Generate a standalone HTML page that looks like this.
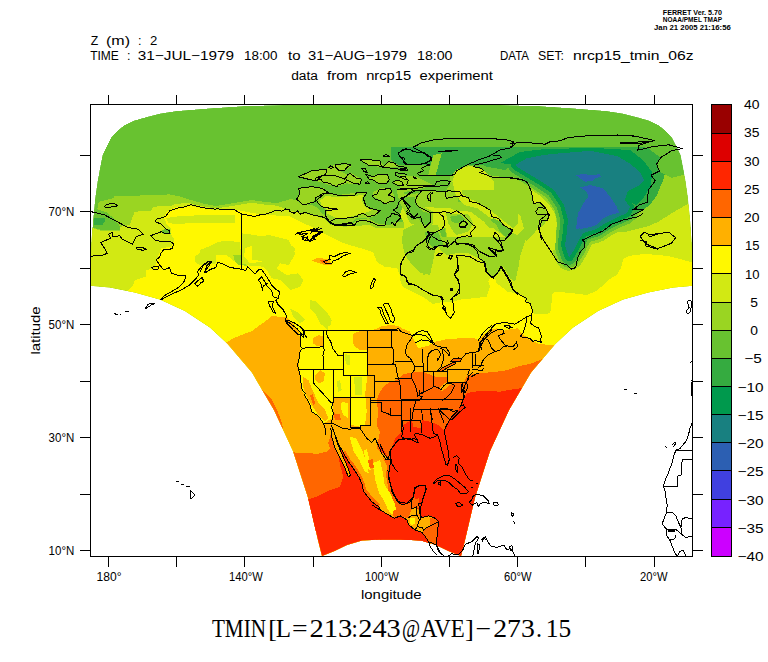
<!DOCTYPE html><html><head><meta charset="utf-8"><title>TMIN</title>
<style>html,body{margin:0;padding:0;background:#fff}body{width:768px;height:662px;overflow:hidden}svg{display:block}text{font-family:"Liberation Sans",sans-serif;fill:#000}.ser{font-family:"Liberation Serif",serif}</style></head><body>
<svg width="768" height="662" viewBox="0 0 768 662">
<rect width="768" height="662" fill="#fff"/>
<defs><clipPath id="dom"><polygon points="304.0,104.5 244.0,106.0 210.0,108.3 176.0,111.0 160.0,113.5 144.5,117.5 134.0,120.5 124.5,125.0 117.0,131.0 111.0,137.5 106.0,147.5 102.5,155.0 101.0,162.5 97.7,180.0 95.2,197.5 93.0,220.0 91.3,245.0 90.5,265.0 90.5,285.8 110.0,287.5 135.0,292.5 160.0,299.5 185.0,311.0 210.0,327.5 227.5,343.8 252.0,372.5 274.0,410.0 293.0,451.0 308.0,497.5 318.0,540.0 322.0,556.0 334.5,551.0 347.0,545.0 362.0,540.5 382.0,539.6 391.5,539.5 401.0,539.6 421.0,540.5 436.0,545.0 448.5,551.0 461.0,556.0 465.0,540.0 475.0,497.5 490.0,451.0 509.0,410.0 531.0,372.5 555.5,343.8 573.0,327.5 598.0,311.0 623.0,299.5 648.0,292.5 673.0,287.5 692.5,285.8 692.5,265.0 691.7,245.0 690.0,220.0 687.8,197.5 685.3,180.0 682.0,162.5 680.5,155.0 677.0,147.5 672.0,137.5 666.0,131.0 658.5,125.0 649.0,120.5 638.5,117.5 623.0,113.5 607.0,111.0 573.0,108.3 539.0,106.0 479.0,104.5" fill="#000" /></clipPath>
<clipPath id="frm"><rect x="90.5" y="104.5" width="602.0" height="452.0"/></clipPath></defs>
<g clip-path="url(#dom)" shape-rendering="crispEdges">
<polygon points="304.0,104.5 244.0,106.0 210.0,108.3 176.0,111.0 160.0,113.5 144.5,117.5 134.0,120.5 124.5,125.0 117.0,131.0 111.0,137.5 106.0,147.5 102.5,155.0 101.0,162.5 97.7,180.0 95.2,197.5 93.0,220.0 91.3,245.0 90.5,265.0 90.5,285.8 110.0,287.5 135.0,292.5 160.0,299.5 185.0,311.0 210.0,327.5 227.5,343.8 252.0,372.5 274.0,410.0 293.0,451.0 308.0,497.5 318.0,540.0 322.0,556.0 334.5,551.0 347.0,545.0 362.0,540.5 382.0,539.6 391.5,539.5 401.0,539.6 421.0,540.5 436.0,545.0 448.5,551.0 461.0,556.0 465.0,540.0 475.0,497.5 490.0,451.0 509.0,410.0 531.0,372.5 555.5,343.8 573.0,327.5 598.0,311.0 623.0,299.5 648.0,292.5 673.0,287.5 692.5,285.8 692.5,265.0 691.7,245.0 690.0,220.0 687.8,197.5 685.3,180.0 682.0,162.5 680.5,155.0 677.0,147.5 672.0,137.5 666.0,131.0 658.5,125.0 649.0,120.5 638.5,117.5 623.0,113.5 607.0,111.0 573.0,108.3 539.0,106.0 479.0,104.5" fill="#68C230" />
<polygon points="88.0,226.5 99.7,229.5 119.7,229.5 119.7,225.8 113.0,217.5 106.0,212.0 97.2,209.2 98.8,201.7 113.0,198.3 114.7,195.8 140.0,195.5 165.0,195.0 168.0,194.0 181.0,196.7 191.0,200.0 205.0,204.0 216.0,206.0 228.0,204.0 240.0,202.0 252.0,200.0 265.0,202.0 277.0,203.0 290.0,199.2 296.7,200.0 300.0,203.3 311.7,205.0 318.3,208.3 321.7,213.3 330.0,218.3 333.3,223.3 353.3,223.3 356.7,220.0 368.3,218.3 376.7,223.3 390.0,225.0 396.7,221.7 406.7,221.7 410.0,215.0 407.0,200.0 403.0,192.0 421.7,190.8 445.0,191.7 450.0,185.0 450.0,175.8 456.7,170.8 466.7,165.0 473.3,166.7 481.7,170.8 486.7,175.0 506.7,177.5 523.3,180.8 600.0,178.0 660.0,172.0 671.5,178.0 686.0,174.0 705.0,174.0 705.0,620.0 80.0,620.0 80.0,232.5" fill="#9AD522" />
<polygon points="88.0,226.5 99.7,230.5 119.7,230.5 120.5,226.7 129.7,225.0 134.7,211.7 151.3,210.8 153.0,206.7 171.0,205.8 174.7,204.2 188.0,202.7 194.7,204.7 204.7,206.7 216.0,208.4 228.0,206.7 240.0,204.7 252.0,202.7 265.0,204.7 277.0,205.7 290.0,210.8 300.0,212.5 311.7,215.0 323.3,218.3 330.0,225.0 345.0,226.7 356.7,225.8 370.0,225.0 376.7,228.3 390.0,228.3 403.3,227.5 406.7,228.3 400.0,215.0 402.0,208.0 412.0,207.0 418.3,206.7 450.0,208.3 463.3,213.3 475.0,225.0 493.3,228.3 500.0,233.0 507.0,238.0 513.0,240.0 520.0,239.0 527.0,240.8 533.9,234.0 538.0,227.0 545.0,228.0 580.0,245.0 605.0,231.7 613.3,230.0 623.3,232.5 636.7,229.2 646.7,226.7 658.0,222.0 672.0,213.0 687.8,204.0 705.0,204.0 705.0,620.0 80.0,620.0 80.0,232.5" fill="#D2E913" />
<polygon points="124.0,297.0 128.0,291.0 132.5,286.0 135.0,280.0 145.5,276.7 146.3,270.0 154.7,268.3 158.0,256.7 161.3,248.3 171.3,246.7 174.7,240.0 170.5,233.3 171.3,229.0 166.3,223.3 163.8,216.7 167.0,211.7 174.7,207.5 191.3,206.0 204.7,208.5 216.0,210.2 228.0,209.0 240.0,210.5 252.0,213.0 267.0,215.0 289.5,216.3 300.0,221.7 315.0,228.3 326.7,235.0 343.0,243.0 360.0,248.0 373.0,252.0 377.0,262.0 385.0,267.0 397.0,268.0 400.0,275.0 400.0,280.0 403.0,287.0 413.0,292.0 423.0,297.0 433.0,304.0 440.0,302.5 453.3,301.7 461.7,299.2 473.3,298.3 486.7,296.7 488.3,291.7 490.0,286.7 488.3,281.7 490.0,277.5 495.0,279.2 496.7,283.3 503.3,288.3 506.7,291.7 510.0,291.7 520.0,295.0 526.7,301.7 531.7,306.7 532.5,313.3 540.0,314.5 550.0,313.3 551.3,306.7 552.0,295.0 555.0,291.5 573.3,293.3 586.7,295.0 596.7,290.8 603.3,285.0 608.3,280.0 616.7,275.0 620.8,268.3 623.3,259.2 628.3,256.0 644.0,254.0 660.0,255.0 671.5,256.7 690.5,262.0 696.0,263.0 705.0,263.0 705.0,620.0 80.0,620.0 80.0,303.0" fill="#FFF800" />
<polygon points="220.0,350.0 226.0,342.5 235.0,337.5 252.0,331.0 267.0,320.0 272.0,316.0 287.0,317.5 294.5,325.0 298.0,331.0 367.5,331.0 375.8,329.0 380.0,326.7 390.0,325.0 398.3,325.8 401.7,328.3 410.0,331.7 413.3,338.3 418.3,348.3 428.3,345.8 435.0,341.7 446.7,339.2 460.0,338.3 473.3,337.5 478.3,340.0 483.3,335.0 490.0,330.0 496.7,328.3 503.3,330.8 510.0,329.2 518.3,328.3 521.7,333.3 530.0,340.0 540.0,344.2 553.3,345.0 560.0,348.0 705.0,348.0 705.0,620.0 80.0,620.0 80.0,356.0" fill="#FFB000" />
<polygon points="299.2,330.0 300.0,345.0 299.2,358.3 298.7,369.2 300.8,380.0 302.5,391.7 305.8,396.7 310.0,405.0 311.7,411.7 318.3,415.8 323.3,423.3 332.5,418.3 332.5,398.3 350.0,397.5 350.8,425.0 360.0,426.7 365.0,425.0 366.7,411.7 365.8,398.3 365.0,395.0 367.5,375.0 367.5,330.0" fill="#FFF800" />
<polygon points="352.5,335.0 356.7,331.7 367.5,330.8 367.5,350.0 360.0,350.0 355.0,346.7 352.5,341.7" fill="#FFB000" />
<polygon points="313.3,338.3 318.3,335.0 323.3,336.7 323.3,346.7 316.7,345.8 312.5,343.3" fill="#FFB000" />
<polygon points="315.0,375.0 320.0,370.0 325.0,373.3 323.3,381.7 318.3,383.3 315.0,380.0" fill="#FFB000" />
<polygon points="302.5,376.7 308.3,380.0 313.3,391.7 318.3,403.3 325.0,410.0 328.3,418.3 325.0,421.7 318.3,415.0 311.7,405.0 305.8,395.0 302.5,385.0" fill="#FFB000" />
<polygon points="310.0,395.0 312.5,394.2 315.3,403.3 313.7,405.3 311.3,400.0" fill="#FF6600" />
<polygon points="333.3,413.3 340.0,414.2 340.8,420.0 335.0,420.0" fill="#FF6600" />
<polygon points="341.7,401.7 348.3,403.3 348.3,418.3 343.3,415.0 340.8,408.3" fill="#FFF800" />
<polygon points="345.0,354.2 350.0,355.0 350.0,365.0 345.8,364.2" fill="#D2E913" />
<polygon points="354.2,376.7 362.5,376.7 361.7,395.0 355.0,395.0" fill="#D2E913" />
<polygon points="336.7,381.7 340.0,380.0 341.7,390.0 338.3,391.7" fill="#D2E913" />
<polygon points="376.0,520.0 378.0,470.0 383.3,458.3 376.7,448.3 380.0,431.7 376.7,425.0 378.3,411.7 376.7,401.7 378.3,395.0 383.3,386.7 390.0,381.7 396.7,380.0 403.3,374.2 413.3,372.5 423.3,372.0 435.0,376.7 446.7,377.5 448.3,381.7 458.3,382.5 463.3,383.3 466.7,376.7 473.3,374.2 483.3,373.0 496.7,371.7 508.0,370.0 519.0,366.0 531.5,363.5 545.0,358.0 560.0,358.0 560.0,620.0 376.0,620.0" fill="#FF6600" />
<polygon points="380.0,560.0 380.0,443.3 388.3,458.3 390.0,460.0 391.7,448.3 395.0,438.3 401.7,431.7 403.3,425.0 411.7,420.0 413.3,426.7 420.8,428.3 421.7,420.0 430.0,421.7 438.3,425.0 444.2,430.8 445.8,425.0 451.7,416.7 458.3,410.0 463.3,400.0 466.7,393.3 473.3,391.7 486.7,390.8 500.0,391.7 508.0,390.0 519.0,388.5 535.0,384.0 560.0,384.0 560.0,620.0 380.0,620.0" fill="#FF2600" />
<polygon points="285.0,448.3 291.7,450.8 296.7,453.3 306.7,452.5 316.7,454.2 326.7,451.7 330.0,448.3 328.3,443.3 331.7,430.0 336.7,428.3 340.0,436.7 345.0,448.3 353.3,463.3 360.0,475.0 363.3,483.3 361.7,490.8 365.0,496.7 371.7,503.3 380.0,510.0 390.0,515.0 398.3,517.5 406.7,521.7 416.7,531.7 285.0,531.7" fill="#FF6600" />
<polygon points="300.0,501.7 306.7,500.0 316.7,496.7 330.0,490.0 340.0,486.7 343.3,476.7 340.0,465.0 336.7,445.0 338.3,441.7 343.3,453.3 348.3,470.0 353.3,470.0 360.0,481.7 360.8,490.8 364.2,497.5 371.7,505.0 380.0,511.7 390.0,516.7 398.3,519.2 406.7,523.3 416.7,531.7 300.0,531.7" fill="#FF2600" />
<polygon points="298.3,176.7 311.7,170.8 328.3,168.3 333.3,165.0 350.0,164.2 350.8,166.7 345.0,170.0 340.0,170.8 348.3,175.0 351.7,173.3 360.0,178.3 361.7,183.3 353.3,184.2 346.7,183.3 336.7,186.7 330.0,185.0 321.7,182.5 315.0,180.8 308.3,179.2" fill="#9AD522" />
<polygon points="298.3,188.3 311.7,186.7 323.3,188.3 328.3,192.5 321.7,195.0 315.0,199.2 311.7,203.3 303.3,205.0 296.7,200.0 300.0,193.3" fill="#9AD522" />
<polygon points="316.7,200.0 325.0,193.3 338.3,195.0 345.0,194.2 356.7,192.5 366.7,192.5 363.3,198.3 366.7,205.0 373.3,210.0 380.0,210.8 376.7,215.0 368.3,218.3 356.7,217.5 353.3,221.7 350.0,225.0 336.7,225.0 330.0,222.5 325.0,215.0 325.8,210.8 320.0,205.0" fill="#9AD522" />
<polygon points="320.0,200.8 325.8,195.8 338.3,197.5 355.0,195.8 363.3,195.0 361.7,200.0 365.0,206.7 371.7,210.8 363.3,213.3 356.7,215.0 345.0,218.3 335.0,217.5 326.7,213.3 327.5,210.0 321.7,205.0" fill="#D2E913" />
<polygon points="373.3,191.7 380.0,188.3 390.0,188.3 393.3,193.3 395.0,200.0 386.7,204.2 380.0,200.0 373.3,196.7" fill="#9AD522" />
<polygon points="396.7,190.0 413.3,188.3 415.0,191.7 406.7,196.7 401.7,200.0 398.3,198.3" fill="#9AD522" />
<polygon points="375.0,175.0 388.3,174.2 389.2,181.7 383.3,183.3 376.7,182.5 368.3,178.3" fill="#9AD522" />
<polygon points="393.3,181.7 400.0,180.0 403.3,184.2 396.7,185.0" fill="#9AD522" />
<polygon points="360.0,160.0 380.0,160.0 383.3,165.8 390.0,161.7 396.7,164.2 396.7,166.7 383.3,167.5 368.3,165.0" fill="#9AD522" />
<polygon points="390.8,146.7 540.0,146.7 540.0,165.0 406.7,165.0 398.3,165.0 390.8,160.0" fill="#35AB40" />
<polygon points="400.0,147.0 433.3,147.0 431.7,156.7 423.3,164.2 405.0,163.3 400.0,156.7" fill="#35AB40" />
<polygon points="441.7,147.0 550.0,147.0 550.0,153.3 513.3,147.5 500.0,151.7 486.7,155.0 475.0,160.0 466.7,165.0 456.7,170.8 450.0,175.8 435.0,175.0 436.7,168.3 441.7,153.3" fill="#35AB40" />
<polygon points="433.3,155.0 441.7,153.3 435.8,175.0 428.3,175.0" fill="#9AD522" />
<polygon points="400.0,175.0 416.7,176.7 433.3,185.0 416.7,190.0 400.0,190.0" fill="#9AD522" />
<polygon points="403.3,191.7 421.7,190.8 416.7,196.7 415.0,201.7 418.3,206.7 425.0,210.0 430.8,213.3 430.8,221.7 425.0,227.5 421.7,221.7 420.8,216.7 415.0,218.3 406.7,211.7 410.0,206.7" fill="#68C230" />
<polygon points="458.3,197.5 470.0,198.3 490.0,208.3 493.3,215.0 490.0,215.0 478.3,206.7 466.7,203.3 458.3,201.7" fill="#68C230" />
<polygon points="455.7,170.0 470.7,165.7 484.0,170.0 494.0,181.7 494.0,195.0 510.7,205.0 520.7,216.7 524.0,228.3 517.3,235.0 504.0,228.3 490.7,218.3 477.3,208.3 464.0,205.0 455.7,195.0 452.3,181.7" fill="#D2E913" />
<polygon points="404.0,210.0 420.7,208.3 437.3,211.7 450.7,210.0 470.7,211.7 484.0,221.7 494.0,235.0 504.0,241.7 517.3,243.3 524.0,251.7 524.0,271.7 404.0,271.7" fill="#D2E913" />
<polygon points="461.7,190.0 518.0,190.0 518.0,223.3 513.3,228.3 506.7,223.3 498.3,216.7 490.0,210.0 476.7,201.7 468.3,198.3 461.7,193.3" fill="#9AD522" />
<polygon points="400.0,195.0 418.3,193.3 423.3,206.7 433.3,211.7 433.3,223.3 428.3,230.0 420.0,226.7 410.0,223.3 405.0,211.7 400.0,203.3" fill="#9AD522" />
<polygon points="401.7,196.7 415.0,196.7 416.7,205.0 423.3,211.7 430.0,213.3 430.8,221.7 426.7,226.7 421.7,223.3 418.3,218.3 411.7,220.0 408.3,213.3 410.0,210.0 405.0,205.0" fill="#68C230" />
<polygon points="430.0,232.5 445.8,228.0 448.3,247.5 440.8,248.7 431.7,240.8" fill="#9AD522" />
<polygon points="431.7,233.3 438.3,230.0 445.0,228.3 446.7,240.0 448.3,246.7 443.3,246.7 438.3,241.7 433.3,238.3" fill="#68C230" />
<polygon points="445.8,213.3 468.3,214.2 473.3,223.3 468.3,231.7 456.7,235.0 453.3,231.7 448.3,223.3" fill="#9AD522" />
<polygon points="450.0,216.7 460.0,215.0 465.0,220.0 456.7,223.3 451.7,221.7" fill="#68C230" />
<polygon points="493.3,218.3 500.0,221.7 511.7,230.0 506.7,238.3 500.0,231.7 496.7,225.0 490.0,220.0" fill="#68C230" />
<polygon points="415.0,253.3 426.7,248.3 431.7,261.7 430.0,273.3 423.3,275.0 420.0,268.3 415.0,261.7" fill="#9AD522" />
<polygon points="440.0,236.7 440.0,250.0 446.7,255.0 456.7,253.3 468.3,253.3 478.3,258.3 485.0,265.0 488.3,273.3 493.3,278.3 500.0,271.7 503.3,266.7 510.0,278.3 515.0,281.7 518.3,268.3 520.0,256.7 523.3,246.7 526.7,236.7" fill="#9AD522" />
<polygon points="403.0,230.0 413.0,225.0 438.0,225.0 443.0,240.0 435.0,250.0 433.0,262.0 430.0,275.0 420.0,273.0 412.0,265.0 405.0,255.0 402.0,242.0" fill="#9AD522" />
<polygon points="425.0,231.7 438.0,231.7 443.3,245.0 433.3,248.3 426.7,241.7" fill="#68C230" />
<polygon points="311.7,260.8 318.3,257.5 330.0,260.0 331.7,265.0 325.0,265.0 316.7,262.5" fill="#FFB000" />
<polygon points="320.0,260.0 326.7,260.3 327.5,263.0 321.7,262.7" fill="#FF6600" />
<polygon points="310.0,300.0 315.0,301.7 326.7,311.7 331.7,320.0 330.0,326.7 323.3,323.3 316.7,315.0 310.0,308.3" fill="#D2E913" />
<polygon points="509.6,178.1 531.8,191.4 544.3,199.7 551.5,210.6 554.3,221.1 553.1,233.3 551.6,243.0 552.0,248.7 554.0,255.7 554.5,257.0 556.7,262.5 561.1,268.3 568.0,270.9 575.2,269.6 580.6,264.7 586.4,255.5 587.3,253.9 590.2,247.4 592.0,244.5 600.6,241.9 604.2,240.2 612.8,234.5 622.3,229.8 631.9,225.7 638.7,219.6 642.0,213.3 643.5,206.1 641.1,199.5 644.0,198.1 646.8,196.2 653.1,190.8 656.7,186.0 657.8,180.1 657.0,177.0 508.2,177.0 509.6,178.1" fill="#9AD522" />
<polygon points="509.1,173.9 511.1,175.5 533.4,188.9 546.4,197.6 554.3,209.4 557.4,220.9 556.1,233.7 554.6,243.4 554.9,247.9 556.9,254.9 557.3,255.9 559.5,261.4 562.9,265.9 568.2,268.0 573.8,266.9 578.1,263.1 583.9,253.9 584.6,252.6 587.6,246.0 590.1,241.9 599.7,239.1 602.5,237.7 611.3,231.9 621.1,227.1 630.8,223.0 636.0,218.2 639.3,211.9 640.5,206.3 638.5,200.9 636.7,198.4 642.7,195.4 644.8,194.0 651.1,188.6 653.9,184.8 654.8,180.2 653.6,175.7 649.3,167.6 647.1,164.8 641.9,160.0 506.0,160.0 504.6,163.6 505.1,168.4 507.6,172.4 509.1,173.9" fill="#68C230" />
<polygon points="483.0,166.0 495.0,158.0 512.0,150.0 530.0,146.7 640.0,146.7 648.0,148.0 657.0,155.0 667.0,162.0 664.0,178.0 657.0,195.0 650.0,205.0 640.0,212.0 630.0,215.0 600.0,200.0 520.0,160.0 505.0,170.0" fill="#35AB40" />
<polygon points="511.2,171.8 512.6,172.9 535.0,186.3 548.6,195.4 557.1,208.1 560.4,220.6 559.1,234.1 557.6,243.9 557.8,247.1 559.8,254.1 560.0,254.8 562.2,260.3 564.7,263.5 568.5,265.0 572.5,264.2 575.5,261.5 581.3,252.3 581.8,251.4 584.9,244.5 588.2,239.4 598.8,236.2 600.9,235.2 609.8,229.3 619.8,224.3 629.6,220.2 633.3,216.8 636.6,210.5 637.5,206.5 636.1,202.6 633.3,198.7 634.1,196.3 641.4,192.7 642.9,191.7 649.2,186.3 651.2,183.6 651.8,180.3 650.9,177.1 646.6,169.0 645.1,167.0 635.9,158.5 634.6,157.5 620.8,149.5 618.5,148.6 608.6,146.7 550.8,146.7 542.5,147.5 541.8,147.6 525.2,150.9 523.0,151.8 511.3,158.5 508.8,160.8 507.6,164.0 507.9,167.4 509.7,170.3 511.2,171.8" fill="#35AB40" />
<polygon points="513.7,169.3 514.4,169.9 536.9,183.4 551.1,192.9 560.3,206.7 563.9,220.3 562.5,234.5 561.0,244.4 561.2,246.1 563.2,253.1 563.3,253.5 565.5,259.0 566.8,260.7 568.8,261.5 571.0,261.1 572.6,259.6 578.4,250.4 578.6,249.9 581.8,242.9 585.9,236.4 597.8,232.8 598.9,232.3 608.0,226.3 618.4,221.1 628.2,217.0 630.2,215.2 633.5,208.9 634.0,206.7 633.3,204.7 629.4,199.3 631.3,193.8 639.8,189.6 640.6,189.0 646.9,183.6 648.0,182.2 648.3,180.4 647.8,178.7 643.5,170.6 642.7,169.6 633.5,161.1 632.8,160.5 619.0,152.5 617.8,152.1 604.1,149.4 604.0,149.4 598.4,148.3 571.8,148.3 559.7,149.3 559.6,149.3 542.9,151.0 542.5,151.1 525.9,154.4 524.7,154.8 513.0,161.5 511.7,162.8 511.0,164.5 511.2,166.3 512.2,167.8 513.7,169.3" fill="#00994D" />
<polygon points="500.0,163.0 520.0,152.0 545.0,149.0 600.0,148.3 630.0,150.0 643.0,160.0 652.0,172.0 651.0,186.0 644.0,197.0 636.0,205.0 625.0,200.0 610.0,152.0 540.0,153.0 515.0,165.0" fill="#00994D" />
<polygon points="515.0,165.0 526.7,158.3 543.3,155.0 560.0,153.3 590.0,150.8 603.3,153.3 617.0,156.0 630.8,164.0 640.0,172.5 644.3,180.6 638.0,186.0 628.0,191.0 625.0,200.0 630.0,207.0 626.7,213.3 616.7,217.5 606.0,222.8 596.7,229.0 583.3,233.0 578.3,241.0 575.0,248.3 569.2,257.5 567.0,252.0 565.0,245.0 566.5,235.0 568.0,220.0 564.0,205.0 554.0,190.0 539.0,180.0 526.5,172.5 516.5,166.5 515.0,165.0" fill="#188080" />
<polygon points="575.8,175.0 583.3,174.2 593.3,175.0 600.0,174.2 600.8,176.7 595.0,178.3 593.3,180.8 585.0,181.7 580.0,178.3" fill="#2C5FB2" />
<polygon points="580.0,187.5 590.0,185.0 603.3,188.3 610.0,196.7 616.7,206.7 619.2,212.5 610.0,215.0 600.0,220.0 596.7,225.0 583.3,227.5 575.8,229.2 576.7,223.3 578.3,213.3 583.3,203.3 588.3,196.7 586.7,191.7" fill="#2C5FB2" />
<polygon points="578.3,211.7 576.7,223.3 580.0,229.2 588.3,227.5 596.7,225.0 601.7,220.0 608.3,211.7" fill="#2C5FB2" />
<polygon points="528.3,186.7 531.7,190.0 540.0,195.8 549.2,205.0 555.0,213.3 556.7,223.3 555.8,240.0 554.7,250.0 545.0,250.0 540.8,240.0 539.2,230.0 547.5,220.0 549.2,215.0 545.8,208.3 540.0,202.5 533.3,203.3 531.7,196.7 530.8,190.0" fill="#D2E913" />
<polygon points="655.2,137.2 682.4,148.0 685.1,172.5 671.5,177.9 660.7,172.5 656.6,164.3 660.7,157.6 671.5,150.8" fill="#68C230" />
<polygon points="300.0,505.0 306.7,500.0 316.7,496.7 330.0,490.0 340.0,486.7 343.3,478.0 347.0,477.0 350.5,477.0 358.7,476.7 362.0,484.0 363.7,491.7 368.0,497.0 372.0,502.0 378.7,506.7 380.3,510.0 388.7,515.0 394.5,518.3 400.3,515.8 407.0,520.0 408.7,525.0 415.3,530.0 422.0,532.5 425.3,536.7 428.7,541.7 430.3,546.7 433.7,551.7 437.0,556.7 437.0,570.0 300.0,570.0" fill="#FF2600" />
<polygon points="338.0,445.0 343.0,452.0 348.0,461.0 353.0,468.0 358.7,476.7 350.5,477.0 346.0,463.0 341.0,452.0" fill="#FF2600" />
<polygon points="376.7,448.3 388.3,458.3 390.0,465.0 388.3,476.7 389.5,480.0 392.0,491.7 397.0,500.8 402.0,505.0 411.2,501.7 413.7,495.0 414.5,487.5 420.3,485.0 425.3,485.8 426.2,489.2 423.7,496.7 422.0,503.3 419.5,509.2 420.3,515.8 422.0,517.5 428.7,515.8 435.3,518.3 438.7,521.7 437.8,528.3 437.0,536.7 436.2,545.0 438.7,550.0 442.0,556.7 437.0,556.7 433.7,551.7 430.3,546.7 428.7,541.7 425.3,536.7 422.0,532.5 415.3,530.0 408.7,525.0 407.0,520.0 400.3,515.8 394.5,518.3 388.7,515.0 380.3,510.0 378.7,506.7 372.0,502.0 368.0,497.0 363.7,491.7 362.0,484.0 358.7,476.7 353.0,468.0 348.0,461.0 343.0,452.0 338.0,443.0 334.0,432.0 331.0,425.0" fill="#FFB000" />
<polygon points="330.8,427.5 331.7,437.0 335.0,448.0 340.0,458.0 345.0,468.0 348.3,477.0 350.5,475.0 346.0,463.0 341.0,452.0 337.0,442.0 334.0,432.0" fill="#FFB000" />
<polygon points="343.0,452.0 348.0,461.0 353.0,468.0 358.7,476.7 362.0,484.0 363.7,491.7 368.0,497.0 372.0,502.0 378.7,506.7 380.0,504.0 374.0,499.0 370.0,494.0 366.5,490.0 364.5,483.0 361.0,475.0 355.5,466.0 350.0,459.0 345.5,451.0" fill="#FF6600" />
<polygon points="383.3,458.3 390.0,460.0 390.0,465.0 388.3,476.7 389.5,480.0 392.0,491.7 397.0,500.8 402.0,505.0 411.2,501.7 412.0,509.2 407.8,518.3 400.3,515.8 394.5,518.3 392.0,513.3 393.7,504.2 388.7,492.5 387.0,480.0 386.0,476.0 387.0,466.0" fill="#FF6600" />
<polygon points="413.7,495.0 414.5,487.5 420.3,485.0 425.3,485.8 426.2,489.2 423.7,496.7 422.0,503.3 419.5,509.2 415.3,508.3 412.5,502.0" fill="#FF2600" />
<polygon points="415.0,499.2 419.0,498.3 419.5,507.5 415.7,508.0" fill="#FF6600" />
<polygon points="429.5,518.3 435.3,518.3 438.7,521.7 437.8,528.3 437.0,536.7 436.2,545.0 428.7,541.7 425.3,536.7 422.0,532.5 423.7,530.0 427.0,527.5 430.3,525.0" fill="#FF6600" />
<polygon points="349.7,436.7 356.0,438.3 362.0,450.0 367.0,463.3 368.7,473.3 364.7,471.7 359.3,460.0 353.7,451.7" fill="#FFF800" />
<polygon points="372.7,463.3 380.0,460.0 382.7,471.7 384.7,485.0 389.3,491.7 394.7,503.3 396.0,510.0 390.3,510.0 384.7,501.7 379.3,493.3 375.3,480.0" fill="#FFF800" />
<polygon points="363.7,450.0 367.0,449.3 369.3,460.0 370.7,470.0 368.0,469.3 365.3,460.0" fill="#FFF800" />
<polygon points="374.5,470.0 382.0,470.0 383.7,480.0 381.2,488.3 386.2,491.7 392.0,498.3 394.5,508.3 392.0,515.0 387.8,509.2 383.7,500.0 378.7,491.7 375.3,480.0" fill="#FFF800" />
<polygon points="409.5,518.7 414.5,517.5 415.0,524.2 410.7,525.0" fill="#FFF800" />
<polygon points="368.0,460.0 372.7,459.3 374.0,468.3 369.3,467.3" fill="#FF6600" />
<polygon points="166.3,218.3 174.7,216.7 188.0,215.8 204.7,215.0 216.0,214.7 234.7,215.0 234.7,222.5 216.0,223.0 204.7,223.3 188.0,223.3 174.7,224.2 168.0,222.5" fill="#D2E913" />
<polygon points="194.7,256.7 201.3,251.7 209.7,248.3 216.0,246.7 216.0,263.3 208.0,265.0 199.7,265.0 194.7,261.7" fill="#D2E913" />
<polygon points="200.0,250.0 208.3,246.7 218.3,241.7 230.0,240.8 240.0,242.5 241.7,263.3 233.3,260.8 226.7,255.0 216.7,255.0 208.3,256.7 200.0,258.3" fill="#D2E913" />
<polygon points="233.3,255.0 241.7,255.0 248.3,263.3 246.7,265.8 238.3,265.0 234.2,260.0" fill="#9AD522" />
<polygon points="241.7,233.3 255.0,235.0 270.0,238.3 286.7,241.7 295.0,248.3 293.3,258.3 280.0,263.3 276.7,268.3 286.7,275.0 298.3,273.3 303.3,280.0 300.0,286.7 290.0,290.0 280.0,280.0 271.7,278.3 266.7,270.0 263.3,266.7 250.0,265.8 241.7,263.3" fill="#D2E913" />
<polygon points="245.0,248.3 255.0,245.0 265.0,248.3 266.7,255.0 261.7,261.7 250.0,263.3 244.2,256.7" fill="#FFF800" />
<polygon points="310.0,300.0 316.7,301.7 323.3,310.0 328.0,320.0 328.0,330.0 320.0,323.3 315.0,313.3 310.0,305.0" fill="#D2E913" />
<polygon points="290.0,308.3 296.7,311.7 305.0,320.0 300.0,323.3 293.3,316.7" fill="#D2E913" />
<polygon points="93.8,217.9 104.7,217.9 104.7,221.7 102.2,225.0 93.8,225.0" fill="#35AB40" />
<polygon points="161.3,229.7 169.7,229.2 170.8,233.7 163.0,234.2" fill="#68C230" />
<polygon points="256.0,384.0 266.0,393.0 272.0,400.0 277.0,410.0 281.0,420.0 283.0,428.0 276.0,428.0 268.0,410.0 258.0,395.0" fill="#FF6600" />
<polygon points="252.0,238.3 268.7,235.0 288.7,240.0 295.3,253.3 288.7,265.0 272.0,261.7 252.0,260.0" fill="#D2E913" />
<polygon points="438.7,388.3 446.7,381.7 456.7,375.0 461.7,373.3 460.0,378.3 450.0,385.0 441.7,391.7" fill="#FFB000" />
<polygon points="411.2,501.7 413.7,495.0 415.7,499.2 415.7,508.0 419.5,509.2 420.3,515.8 417.0,515.0 416.2,506.7 412.0,509.2" fill="#FF6600" />
<polygon points="416.7,509.2 419.0,509.7 419.3,514.7 417.3,514.3" fill="#FFB000" />
</g>
<g clip-path="url(#frm)" fill="none" stroke="#000" stroke-width="1" shape-rendering="crispEdges">
<polygon points="438.5,371.1 442.2,368.0 447.2,365.5 452.2,363.0 456.0,361.8 455.4,363.6 451.0,366.1 446.0,368.6 441.0,371.8" fill="#FF6600" stroke="#000"/>
<polygon points="451.0,361.1 453.5,358.6 458.5,358.0 461.6,358.6 460.4,361.1 454.8,361.8" fill="#FF6600" stroke="#000"/>
<polyline points="91.3,211.7 104.7,215.0 128.0,227.5 138.0,229.2 143.0,234.2 136.3,236.7 132.2,244.2 122.2,239.2 119.7,235.8 113.0,236.7 112.2,232.5 108.8,234.2 110.5,238.3 100.5,242.5 104.7,248.3 107.2,253.3 103.0,255.0 94.7,255.0 91.3,256.7" />
<polyline points="104.7,206.7 106.3,204.2 114.7,203.7 117.7,205.8 113.0,206.7 106.3,208.0 104.7,206.7" />
<polyline points="136.3,247.5 141.3,247.0 146.3,249.2 143.0,250.3 137.2,249.2 136.3,247.5" />
<polyline points="216.0,209.2 204.7,208.0 194.7,205.8 190.5,204.7 185.5,206.7 178.0,208.0 169.7,210.8 165.5,216.7 156.3,219.2 155.5,221.7 161.3,224.2 166.3,229.2 169.7,230.8 169.7,233.7 165.5,233.7 161.3,231.7 150.5,235.8 154.7,240.0 161.3,241.7 171.3,242.0 173.8,244.2 172.2,248.3 168.0,250.0 163.8,249.7 161.3,252.5 159.7,256.7 156.3,260.0 159.7,265.0 163.8,270.0 169.7,267.5 171.3,273.3 179.7,275.8 185.5,275.8 184.7,280.8 179.7,286.7 171.3,291.7 166.3,294.2 160.5,299.2 161.3,299.7 171.3,294.2 181.3,290.0 189.7,285.0 194.7,280.0 198.8,275.0 197.2,271.7 203.0,265.0 208.0,261.7 211.3,261.7 207.2,265.0 205.5,270.0 204.7,272.5 209.7,270.0 216.0,267.5" />
<polyline points="151.3,267.5 154.7,266.3 158.8,267.0 158.0,269.2 153.8,269.7 151.3,267.5" />
<polyline points="194.7,283.3 202.2,277.5 203.8,280.8 197.2,286.3 194.7,283.3" />
<polyline points="298.3,176.7 311.7,170.8 326.7,169.2 325.8,174.2 315.0,178.3 316.7,180.8 321.7,175.8 333.3,175.0 345.0,179.2 347.5,175.0 350.0,173.3 356.7,178.3 361.7,179.2 360.0,184.2 353.3,183.3 346.7,180.0 345.0,182.5 338.3,185.0 336.7,186.7 331.7,185.0 330.8,183.3 323.3,182.5 320.8,179.2 315.0,180.8 308.3,179.2 298.3,176.7" />
<polyline points="328.3,167.5 330.8,165.8 333.3,167.5 330.8,168.3 328.3,167.5" />
<polyline points="335.0,165.0 345.0,163.3 350.8,165.0 346.7,167.5 345.0,170.0 338.3,170.0 335.8,167.5 335.0,165.0" />
<polyline points="298.3,188.3 311.7,186.7 321.7,188.3 328.3,192.5 321.7,194.2 315.0,198.3 315.0,201.7 303.3,205.0 296.7,199.2 300.0,193.3 298.3,188.3" />
<polyline points="316.7,200.0 325.0,193.3 335.0,194.2 338.3,195.8 355.0,195.0 356.7,192.5 366.7,192.5 363.3,198.3 365.8,205.8 370.0,208.3 376.7,210.0 380.0,210.8 375.0,215.0 368.3,216.7 363.3,213.3 358.3,215.0 356.7,216.7 345.0,218.3 336.7,218.3 330.0,221.7 335.8,225.0 351.7,222.5 354.2,225.0 350.0,225.0 336.7,225.0 330.0,222.5 325.0,215.0 325.8,210.8 338.3,209.2 330.0,208.3 321.7,206.7 318.3,203.3 316.7,200.0" />
<polyline points="290.0,211.7 294.2,213.3 297.5,210.8 300.0,214.2 305.0,212.5 313.3,215.0 321.7,216.7 325.8,218.3 330.0,223.3 335.8,225.8 351.7,223.3 354.2,225.8 356.7,221.7 363.3,220.0 370.0,221.7 376.7,225.0 385.0,225.0 386.7,218.3 390.0,216.7 391.7,213.3 398.3,215.0 400.8,217.5 396.7,221.7 395.0,225.8 392.0,221.7 390.8,224.2" />
<polyline points="360.0,160.0 368.3,159.7 380.0,160.8 380.8,165.0 383.3,166.7 388.3,161.7 395.0,163.3 396.7,165.8 406.7,167.5 405.0,170.0 393.3,168.3 383.3,167.5 378.3,165.8 368.3,165.0 364.2,162.5 360.0,160.0" />
<polyline points="383.3,156.3 385.8,154.2 389.2,156.3 383.3,156.3" />
<polyline points="361.7,168.3 365.0,168.3 367.5,172.5 364.2,171.7 361.7,168.3" />
<polyline points="365.8,174.2 373.3,176.7 376.7,175.0 387.5,174.7 389.2,180.0 386.7,183.3 378.3,183.3 373.3,180.0 369.2,179.2 365.8,174.2" />
<polyline points="365.0,183.3 367.5,181.7 369.2,183.3 365.0,183.3" />
<polyline points="392.5,182.5 396.7,180.0 401.7,181.7 403.3,185.0 396.7,185.0 392.5,182.5" />
<polyline points="371.7,195.8 376.7,194.2 379.2,190.0 390.0,188.3 391.7,191.7 388.3,195.0 394.2,197.5 395.0,200.8 390.0,201.7 385.0,204.2 380.8,200.8 375.0,199.2 371.7,195.8" />
<polyline points="396.7,190.0 410.0,188.7 415.0,190.8 406.7,195.8 401.7,199.2 399.2,201.7 396.7,208.3 393.3,210.0 398.3,213.3 400.8,216.7" />
<polyline points="403.3,200.8 410.0,211.7 406.7,213.3 413.3,218.3 418.0,213.3" />
<polyline points="406.7,174.2 395.0,172.5 395.0,175.0 398.3,176.7 406.7,180.0" />
<polyline points="406.7,148.7 403.3,149.2 398.3,153.3 400.0,156.7 405.0,158.3 403.3,161.7 406.7,165.0" />
<polyline points="413.3,146.7 418.0,145.0" />
<polyline points="295.0,234.2 303.3,231.7 310.0,230.0 315.0,228.3 311.7,231.7 321.7,231.7 316.7,235.0 313.3,236.7 315.0,239.2 310.0,241.7 306.7,238.3 305.0,240.8 302.5,239.2 304.2,235.8 300.0,233.3 295.0,234.2" />
<polyline points="413.3,147.5 420.0,143.3 433.3,140.0 453.3,138.0 475.0,138.0 493.3,138.7 506.7,140.0 513.3,141.7 514.2,145.0 510.0,148.0 500.0,150.0 490.0,155.8 478.3,160.0 466.7,165.0 456.7,170.8 455.0,174.2 450.0,175.8 435.0,175.0 420.0,175.8 417.5,173.3 423.3,170.8 421.7,168.3 426.7,165.8 430.0,165.0 425.0,163.3 431.7,160.0 430.0,156.7 426.7,155.8 425.0,153.3 413.3,147.5" />
<polyline points="492.5,155.0 500.0,155.8 501.7,157.5 493.3,160.0 485.0,162.5 475.0,165.0 473.3,166.7 481.7,168.3 483.3,170.8 480.0,172.5 486.7,175.0 493.3,177.5 506.7,177.5 523.3,180.0 528.0,183.3" />
<polyline points="438.3,151.7 450.0,150.5 457.5,150.5 450.0,151.2 438.3,151.7" />
<polyline points="400.0,151.7 405.0,149.2 410.0,149.2 413.3,151.7 425.0,153.3 431.7,157.5 430.8,160.0 425.0,163.3 416.7,165.0 406.7,164.2 401.7,158.3 400.0,156.7" />
<polyline points="400.0,168.3 406.7,168.3 407.5,170.0 400.0,170.8" />
<polyline points="400.0,176.7 405.0,176.7 408.3,180.0 406.7,185.0 416.7,185.8 435.0,185.0 436.7,181.7 445.0,180.0 450.0,181.7 448.3,185.0 435.0,186.7 425.0,186.7 416.7,188.3 400.0,188.3" />
<polyline points="413.3,176.7 416.7,178.7 414.2,178.7 413.3,176.7" />
<polyline points="400.0,198.3 405.0,196.7 413.3,190.0 421.7,190.8 416.7,196.7 415.0,201.7 418.3,206.7 425.0,210.0 430.0,212.5 430.8,221.7 425.0,227.5 421.7,221.7 420.8,216.7 415.0,218.3 410.0,213.3 406.7,211.7 410.0,206.7 401.7,198.3" />
<polyline points="430.8,192.5 427.5,195.8 428.3,200.0 430.8,201.7 430.8,198.3 430.0,195.0 433.3,192.5" />
<polyline points="445.0,191.7 448.3,190.8 460.0,191.7 461.7,195.8 455.0,196.7 446.7,198.3 445.0,195.0 445.0,191.7" />
<polyline points="421.7,190.8 433.3,190.8 445.0,191.7" />
<polyline points="461.7,195.8 468.3,197.5 470.0,201.7 478.3,203.3 490.0,210.0 491.7,216.7 498.3,218.3 503.3,225.0 511.7,230.0 510.0,235.0 505.0,240.0" />
<polyline points="430.0,212.5 438.3,212.5 443.3,216.7 445.0,225.0 441.7,229.2 433.3,233.3 426.7,231.7" />
<polyline points="438.3,212.5 445.0,211.7 451.7,213.3 456.7,210.8 463.3,215.0 473.3,225.0 475.8,226.7 470.0,233.3 471.7,236.7 466.7,235.8 458.3,237.5 455.0,240.0 456.7,243.3 461.7,243.3 470.0,244.2" />
<polyline points="459.2,225.0 461.7,221.7 465.8,221.7 467.5,224.2 465.0,227.5 460.8,227.5 459.2,225.0" />
<polyline points="415.0,246.7 413.3,251.7 406.7,253.3 401.7,261.7 400.0,270.0 400.8,275.0 405.8,276.7 408.3,284.2 415.0,285.0 423.3,290.0 431.7,295.0 441.7,296.7 443.3,300.0" />
<polyline points="427.5,238.3 415.0,246.7" />
<polyline points="426.7,231.7 430.0,234.2 425.8,239.2 429.2,250.0 435.0,246.7 443.3,245.0 447.5,247.5 446.7,242.5 438.3,240.0 433.7,237.5 430.0,233.7" />
<polyline points="456.7,255.0 458.3,266.7 454.2,274.2 458.3,280.0 460.0,286.7 456.7,293.3 451.7,298.3 450.8,300.0" />
<polyline points="456.7,255.0 470.0,256.7 478.3,261.7 485.0,263.3 486.7,271.7 491.7,277.5 496.7,274.2 500.8,266.7 506.7,276.7 513.3,290.0 518.0,295.0" />
<polyline points="447.5,247.5 455.0,240.8 456.7,244.2 465.0,243.3 473.3,245.0 480.0,251.7 490.0,256.7 496.7,255.8 493.3,251.7 488.3,247.5 496.7,250.0 503.3,250.0 500.8,241.7 498.3,235.0 495.0,232.5 493.3,236.7 496.7,240.0 505.0,240.0 512.5,230.0" />
<polyline points="436.7,255.8 439.2,253.0 443.3,253.0 440.0,255.8 436.7,255.8" />
<polyline points="448.3,258.3 450.0,255.0 452.5,255.8 450.8,259.2 448.3,258.3" />
<polyline points="450.7,288.7 452.7,290.7" />
<polyline points="452.7,288.7 450.7,290.7" />
<polyline points="451.7,288.3 451.7,291.0" />
<polyline points="450.3,289.7 453.0,289.7" />
<polyline points="459.2,223.3 463.3,220.8 467.5,223.3 465.0,226.7 460.0,226.7 459.2,223.3" />
<polyline points="241.7,212.5 241.7,269.2" />
<polyline points="200.0,271.7 203.3,265.8 208.3,261.7 211.7,261.7 206.7,269.2 204.2,271.7 206.7,272.5 210.0,269.2 215.8,267.5 217.5,262.5 221.7,263.3 230.0,267.5 241.7,269.2 245.8,270.8 247.5,266.7 255.0,274.2 258.3,270.0 261.7,269.5 266.7,276.7 271.7,285.0 275.8,289.2 279.7,291.7 278.3,298.3 275.8,300.0 278.3,305.0 283.3,310.0 286.7,316.7 285.0,320.8 288.3,320.0 295.0,323.3 300.0,326.7 303.3,330.0 304.2,334.2 306.7,337.5" />
<polyline points="258.3,280.0 261.7,276.7 265.8,283.3 268.3,283.3 263.3,285.8 262.5,289.2 260.8,283.3 258.3,280.0" />
<polyline points="265.8,285.0 271.7,290.8 273.3,296.7 278.3,298.3" />
<polyline points="268.3,301.7 273.3,301.3 272.5,306.7 275.8,313.3 273.3,312.5 269.2,305.0 268.3,301.7" />
<polyline points="285.0,320.8 290.0,323.3 296.7,328.3 301.7,334.2 298.3,335.0 293.3,330.0 286.7,323.3 285.0,320.8" />
<polyline points="200.0,278.3 202.5,277.5 203.3,281.7 200.0,283.3" />
<polyline points="295.8,233.3 306.7,230.8 316.7,230.0 321.7,228.3 313.3,231.7 321.7,231.7 313.3,235.8 310.0,240.8 305.0,240.0 308.3,236.7 303.3,238.3 301.7,236.7 308.3,233.3 300.0,234.2 295.8,233.3" />
<polyline points="438.0,295.0 433.3,295.0 423.3,290.0 416.7,285.8 410.0,283.3 406.7,281.7 405.8,276.7 400.0,273.3 400.0,265.0 403.3,258.3 406.7,253.3 413.3,250.0 416.7,245.0 423.3,241.7 426.7,236.7 430.0,232.5 426.7,231.7 433.3,232.5 438.0,231.7" />
<polyline points="426.7,246.7 430.0,237.5 433.3,232.5" />
<polyline points="425.8,246.7 429.2,247.5 433.3,250.0 438.0,245.8" />
<polyline points="310.0,234.2 313.3,230.0 317.5,228.3 315.0,231.7 321.7,232.5 316.7,235.8 313.3,238.3 310.0,240.0" />
<polyline points="323.3,261.7 330.0,259.2 329.2,255.0 334.2,256.7 340.8,253.3 345.8,252.5 350.0,253.3 343.3,255.8 338.3,259.2 333.3,260.8 331.7,263.3 325.8,263.3 323.3,261.7" />
<polyline points="342.5,275.8 345.8,271.7 350.0,270.3 356.7,272.5 351.7,273.3 347.5,275.0 345.0,276.7 342.5,275.8" />
<polyline points="370.0,289.2 371.7,282.5 374.2,278.3 375.3,280.0 373.3,284.2 373.0,287.5 370.0,289.2" />
<polyline points="377.5,307.5 381.7,307.5 383.3,313.3 385.0,316.7 388.3,323.3 385.8,323.3 383.3,318.3 380.8,313.3 380.0,310.0 377.5,307.5" />
<polyline points="383.3,304.2 388.3,303.3 390.8,308.3 392.5,315.0 395.0,318.3 393.3,322.5 390.8,321.7 388.3,315.0 385.8,310.0 383.3,304.2" />
<polyline points="440.0,245.0 445.0,246.7 448.3,243.3 447.5,240.0" />
<polyline points="455.0,240.0 456.7,243.3 466.7,244.2 473.3,246.7 477.5,251.7 479.2,258.3 484.2,261.7 485.8,271.7 493.3,278.3 501.7,266.7 506.7,275.0 511.7,283.3 512.5,289.2 520.0,295.0 526.7,298.3 525.0,301.7 530.0,303.3 532.5,310.0 531.7,315.0 526.7,316.7 521.7,320.0 515.0,324.2 510.0,323.3 503.3,322.5 495.0,324.2 490.0,330.0 484.2,336.7 480.0,342.5 485.0,338.3 491.7,332.5 498.3,329.2 503.3,330.0 504.2,333.3 498.3,335.8 500.8,340.0 505.8,345.8 513.3,346.7 516.7,341.7 517.5,346.7 513.3,350.0" />
<polyline points="487.5,246.7 491.7,251.7 496.7,256.7 495.0,250.0 498.3,251.7 502.5,250.8 501.7,246.7 498.3,241.7 496.7,240.0" />
<polyline points="456.7,255.0 457.5,261.7 458.3,270.0 454.2,275.0 457.5,280.0 460.0,286.7 459.2,293.3 452.5,297.5 453.3,306.7 454.2,312.5 450.8,318.3 447.5,315.8 443.3,306.7 441.7,298.3 440.0,296.7" />
<polyline points="449.2,256.7 450.8,255.0 451.7,257.5 450.0,259.2 449.2,256.7" />
<polyline points="450.3,288.7 452.3,290.7" />
<polyline points="452.3,288.7 450.3,290.7" />
<polyline points="451.3,288.3 451.3,291.0" />
<polyline points="450.0,289.7 452.7,289.7" />
<polyline points="442.5,307.5 445.0,306.7 445.8,309.2 443.3,309.2 442.5,307.5" />
<polyline points="526.7,316.7 531.7,315.0 530.8,323.3 535.0,326.7 538.3,327.5 540.0,331.7 541.7,336.7 540.0,340.0 541.7,342.5 538.3,341.7 535.8,340.0 533.3,341.7 530.0,338.3 525.0,337.5 520.0,336.7 523.3,332.5 525.0,326.7 526.7,320.0 526.7,316.7" />
<polyline points="504.2,325.8 508.3,325.3 511.7,327.5 508.3,328.3 504.2,325.8" />
<polyline points="480.0,342.5 481.7,350.0" />
<polyline points="510.0,144.2 513.3,142.5 512.5,145.8 510.0,146.7" />
<polyline points="510.0,143.3 526.7,142.5 545.0,144.2 550.0,141.7 560.0,140.8 568.3,137.5 593.3,135.3 626.7,135.3 638.0,136.7" />
<polyline points="620.0,143.0 626.7,142.3 630.0,143.0 623.3,143.3 620.0,143.0" />
<polyline points="510.0,177.5 520.0,179.2 526.7,181.7 530.8,190.0 532.5,196.7 533.3,203.3 540.0,202.5 545.8,208.3 549.2,215.0 547.5,220.0 541.7,220.8 539.2,230.0 540.8,236.7 541.7,240.0" />
<polyline points="545.8,208.3 538.3,207.5 535.8,211.7 537.5,215.0 547.5,214.2" />
<polyline points="510.0,228.3 512.5,230.0 511.7,233.3 510.0,234.2" />
<polyline points="638.0,205.8 633.3,210.0 636.7,208.3" />
<polyline points="548.3,213.3 540.0,220.0 538.3,228.3 543.3,240.0 550.0,250.0 557.5,261.7 566.7,265.0 571.7,269.2 575.8,267.5 577.5,258.3 580.0,252.5 584.2,247.5 584.2,241.7 582.5,240.0 593.3,235.0 603.3,230.8 611.7,224.2 623.3,220.0 638.3,216.7 643.3,213.3" />
<polyline points="640.0,235.8 643.3,232.5 647.5,233.3 649.2,236.7 658.0,234.2" />
<polyline points="640.0,240.0 646.7,241.7 645.0,245.8 658.0,249.2" />
<polyline points="590.0,135.8 617.2,135.0 633.5,135.8 653.9,140.4 638.9,145.3 637.6,150.2 652.5,146.7 668.8,144.8 682.4,148.6 671.5,150.8 660.7,157.6 656.6,164.3 659.3,171.1 651.1,175.2 655.2,180.7 648.4,190.2 647.1,202.4 638.9,205.1 633.5,209.2 644.3,209.2 630.8,216.0" />
<polyline points="619.9,143.2 636.2,142.1 652.5,141.2 636.2,144.0 619.9,143.2" />
<polyline points="640.3,236.4 644.3,232.3 649.8,235.0 657.9,233.6 668.8,232.3 675.6,237.7 671.5,243.2 657.9,248.6 647.1,244.5 643.0,240.4 640.3,236.4" />
<polyline points="380.0,444.2 385.0,455.0 388.3,459.2" />
<polyline points="388.3,459.2 390.0,450.8 398.3,440.0 403.3,439.2 410.0,438.3 415.0,441.7 418.3,442.5 415.8,437.5 414.2,435.0 415.8,433.3 423.3,435.0 430.0,438.3 435.0,436.7 437.5,435.0 440.0,441.7 441.7,450.0 444.2,458.3 445.8,464.2 447.5,465.0 449.2,460.0 448.3,451.7 446.7,443.3 445.0,435.0 444.2,430.8 446.7,425.0 451.7,416.7 458.3,410.0" />
<polyline points="388.3,459.2 391.7,460.0 390.0,465.0 388.3,476.7 390.0,483.3 393.3,493.3 398.3,501.7 406.7,503.3 413.3,497.5 415.0,488.3 420.8,485.0 425.8,485.8 425.0,491.7 422.5,500.0 421.7,503.3 420.0,510.0 420.0,520.0" />
<polyline points="401.7,408.3 401.7,431.7" />
<polyline points="410.8,408.3 410.8,431.7" />
<polyline points="411.7,420.0 420.8,420.0 421.7,433.3" />
<polyline points="430.0,408.3 431.7,420.0 433.3,433.3 437.5,435.0" />
<polyline points="438.3,408.3 444.2,423.3" />
<polyline points="390.0,415.0 401.7,415.0" />
<polyline points="401.7,420.0 410.8,420.0" />
<polyline points="390.0,415.0 390.0,408.3" />
<polyline points="433.3,483.3 436.7,479.2 443.3,475.8 450.0,475.8 455.0,479.2 460.0,483.3 465.0,487.5 468.3,491.7 466.7,493.3 460.0,493.3 458.3,490.0 453.3,486.7 449.2,482.5 443.3,480.0 438.3,480.0 435.0,483.3 433.3,483.3" />
<polyline points="453.3,457.5 456.7,455.8 459.2,458.3 458.3,463.3 461.7,466.7 465.0,473.3 468.3,478.3 470.8,480.8 473.3,480.0" />
<polyline points="455.8,464.2 457.5,466.7 457.5,473.3 455.0,468.3 455.8,464.2" />
<polyline points="455.8,503.3 459.2,502.5 462.5,505.0 460.0,506.7 456.7,505.8 455.8,503.3" />
<polyline points="469.2,502.5 471.7,500.0 473.3,495.8 477.5,494.2 483.3,495.8 488.3,500.8 489.2,503.3 483.3,502.5 480.0,504.2 478.3,506.7 476.7,502.5 472.5,505.0 469.2,502.5" />
<polyline points="493.3,503.0 497.5,502.5 498.3,505.0 494.2,505.8 493.3,503.0" />
<polyline points="438.3,482.5 440.0,482.0 440.0,485.0 438.7,484.7 438.3,482.5" />
<polyline points="475.8,484.2 478.3,483.3" />
<polyline points="471.3,487.5 472.7,487.0" />
<polyline points="302.5,330.5 398.0,330.5" />
<polyline points="301.7,330.0 304.2,331.7 303.3,337.5 300.8,335.0 300.0,340.0 300.0,345.8 302.5,348.3 300.0,351.7 299.2,358.3 297.5,365.0 298.7,369.2 300.0,375.0 300.8,381.7 301.7,388.3 303.3,391.7 305.8,393.3 304.2,395.0 307.5,400.0 310.0,405.0 311.7,411.7 316.7,415.0 320.0,418.3 323.3,423.3 325.0,428.3 325.0,435.0" />
<polyline points="302.5,348.3 308.3,347.5 315.0,347.5 323.3,346.7" />
<polyline points="323.3,330.5 323.3,346.7 324.2,350.0 323.0,355.0 323.3,370.0" />
<polyline points="325.8,330.5 327.5,336.7 330.8,341.7 332.5,348.3 335.8,352.5 338.3,355.8 343.3,355.0" />
<polyline points="298.7,369.7 343.3,369.7" />
<polyline points="313.7,369.7 313.7,383.3 331.7,403.3" />
<polyline points="333.3,369.7 333.3,402.5 332.5,402.5 331.7,408.3 333.3,413.3 332.5,418.3 330.8,423.3" />
<polyline points="343.3,352.5 367.5,352.5 367.5,375.0 343.3,375.0 343.3,352.5" />
<polyline points="343.3,375.0 350.8,375.0 350.8,427.5" />
<polyline points="333.3,397.0 374.2,397.0 374.2,375.8 350.8,375.8" />
<polyline points="367.5,330.5 367.5,352.5" />
<polyline points="350.8,427.5 360.8,427.5 360.8,425.8 370.8,425.8 370.8,397.5" />
<polyline points="323.3,423.3 332.5,423.3 343.3,428.7 350.8,429.2" />
<polyline points="367.5,347.5 393.3,347.5" />
<polyline points="367.5,364.7 394.2,364.7" />
<polyline points="367.5,375.0 374.2,375.0 374.2,381.7 398.0,381.7" />
<polyline points="370.8,400.0 398.0,400.0" />
<polyline points="370.8,400.0 370.8,402.5 381.7,402.5 381.7,411.7 386.7,413.3 393.3,415.8 398.0,415.0" />
<polyline points="380.0,329.7 396.0,329.7" />
<polyline points="391.7,329.7 391.7,347.5 392.0,347.5 393.7,350.0 393.0,363.3 395.8,365.0 396.7,371.7 398.0,376.7 399.7,381.7 400.3,388.3 400.3,396.7 401.7,400.8 401.7,420.0" />
<polyline points="380.0,347.5 392.0,347.5" />
<polyline points="380.0,364.2 393.0,364.2" />
<polyline points="380.0,381.7 399.7,381.7" />
<polyline points="380.0,400.0 401.3,400.0" />
<polyline points="420.0,390.0 419.2,395.8 422.5,396.7 419.2,400.8 415.8,400.8 413.3,410.0 412.5,416.7 411.7,420.0" />
<polyline points="478.3,351.7 480.0,342.5 484.2,338.3 488.3,340.0 491.7,348.3 495.0,351.7 488.3,355.0 483.3,360.0 480.0,366.7 478.3,367.5" />
<polyline points="495.0,351.7 500.0,350.0 503.3,346.7 508.0,345.8" />
<polyline points="472.5,372.5 468.3,376.7 466.7,381.7 467.5,388.3 465.0,393.3 463.3,388.3 462.5,383.3 464.2,396.7 461.7,403.3 460.0,406.7 463.3,405.0 465.0,407.5 460.0,411.7 455.0,416.7 451.7,420.0" />
<polyline points="401.7,400.0 463.3,399.5" />
<polyline points="412.5,409.2 453.3,409.2" />
<polyline points="401.7,400.8 415.8,400.8" />
<polyline points="421.7,409.2 422.5,420.0" />
<polyline points="430.0,409.2 432.5,420.0" />
<polyline points="438.3,409.2 446.7,416.7 450.0,420.0" />
<polyline points="438.3,409.2 446.7,408.3 453.3,411.7 458.3,410.0" />
<polyline points="394.8,329.5 398.5,328.6 401.0,331.8 408.5,334.2 412.9,335.5 417.2,332.4 422.2,330.5 427.2,331.8 430.4,336.8 432.9,341.8 434.8,343.6" />
<polyline points="412.9,335.5 418.5,334.2 426.0,336.1 433.5,343.0" />
<polyline points="412.9,335.5 411.0,339.2 408.5,342.4 406.6,346.1 405.4,351.8 406.6,355.5 409.8,358.0 412.2,361.1 414.8,366.8 414.1,370.5 411.0,374.2 411.6,378.0 414.8,384.2 416.6,390.5 417.9,396.1 421.0,393.0" />
<polyline points="394.8,361.1 412.2,361.1" />
<polyline points="394.8,378.0 411.6,378.0" />
<polyline points="414.8,343.0 421.0,339.9 428.5,340.5 433.5,344.2 438.5,346.8 446.0,347.4 449.8,353.0 449.1,355.5 446.0,351.8 443.5,349.2 439.8,348.6" />
<polyline points="422.9,349.2 422.2,355.5 422.9,361.8 423.5,370.5 423.5,388.0 422.9,393.0 421.0,393.0 426.0,391.1 432.2,388.0 433.5,386.1 438.5,388.0 441.0,389.9 443.5,386.1 447.2,383.0" />
<polyline points="414.8,366.8 422.9,366.8" />
<polyline points="427.9,370.5 427.2,360.5 428.5,354.2 432.2,350.5 437.2,349.2 439.8,351.8 440.4,355.5 438.5,359.2 437.2,358.0 437.9,361.1" />
<polyline points="442.2,350.5 443.5,355.5 442.9,361.8 441.0,366.8 437.2,371.1" />
<polyline points="423.5,371.1 447.2,371.1" />
<polyline points="433.5,371.1 433.5,386.1" />
<polyline points="447.2,369.9 447.2,383.0" />
<polyline points="447.2,369.2 469.8,369.2 467.9,374.2 468.5,379.2 466.0,382.4 447.2,382.4" />
<polyline points="461.6,358.6 466.0,353.6 472.2,352.4 478.5,351.8 482.2,343.0 486.0,336.8 492.0,329.2" />
<polyline points="477.9,341.1 482.2,334.2 487.2,328.6 492.0,325.5" />
<polyline points="472.2,353.0 472.2,368.0" />
<polyline points="476.0,354.2 475.4,365.5" />
<polyline points="472.2,365.5 483.5,365.5" />
<polyline points="472.2,369.2 482.2,370.5 483.5,368.0" />
<polyline points="466.0,382.4 464.1,388.0 463.5,393.0 464.1,398.0" />
<polyline points="471.0,376.8 476.0,374.2 478.5,373.0" />
<polyline points="461.0,384.2 461.6,393.0 463.5,388.0" />
<polyline points="447.2,383.0 451.0,383.6 454.8,385.5 451.0,393.0 446.0,398.0 442.2,400.5" />
<polyline points="387.8,470.0 389.5,480.0 392.0,491.7 397.0,500.8 402.0,505.0 411.2,501.7 413.7,495.0 414.5,487.5 420.3,485.0 425.3,485.8 426.2,489.2 423.7,496.7 422.0,503.3 419.5,509.2 420.3,515.8 422.0,517.5 428.7,515.8 435.3,518.3 438.7,521.7 437.8,528.3 437.0,536.7 436.2,545.0 438.7,550.0 442.0,555.0" />
<polyline points="372.0,505.0 380.3,510.0 388.7,515.0 394.5,518.3 400.3,515.8 407.0,520.0 408.7,525.0 415.3,530.0 422.0,532.5 425.3,536.7 428.7,541.7 430.3,546.7 433.7,551.7 437.0,555.0" />
<polyline points="411.2,501.7 412.0,509.2 416.2,506.7 417.0,515.0 419.5,520.0 417.0,526.7 415.3,530.0" />
<polyline points="407.8,518.3 412.0,515.0 417.0,515.0" />
<polyline points="419.5,509.2 418.7,503.3 422.0,503.3" />
<polyline points="417.0,526.7 422.0,527.5 423.7,530.0 427.0,527.5 435.3,523.3 438.7,521.7" />
<polyline points="428.7,541.7 436.2,545.0" />
<polyline points="436.2,545.0 438.7,551.7 443.7,555.8" />
<polyline points="448.7,555.8 452.0,553.3 455.3,555.0 458.7,554.2 462.8,550.0 465.3,544.2 472.0,541.7 477.0,536.7 478.7,538.3 475.3,543.3 473.7,551.7 472.8,555.8" />
<polyline points="477.0,543.3 479.5,545.0 478.7,553.3 477.0,553.3 477.0,543.3" />
<polyline points="481.2,540.0 485.3,536.7 487.0,540.0 483.7,538.3 482.0,541.7" />
<polyline points="487.0,540.0 490.3,545.8 497.0,547.5 503.7,545.0 507.0,550.0 510.3,548.3 513.7,553.3 515.3,556.7" />
<polyline points="331.0,425.0 334.0,432.0 338.0,443.0 343.0,452.0 348.0,461.0 353.0,468.0 358.7,476.7 362.0,484.0 363.7,491.7 368.0,497.0 372.0,502.0 378.7,506.7 380.3,510.0" />
<polyline points="330.8,427.5 331.7,437.0 335.0,448.0 340.0,458.0 345.0,468.0 348.3,477.0 350.5,475.0 346.0,463.0 341.0,452.0 337.0,442.0 334.0,432.0 332.5,428.0" />
<polyline points="360.0,428.3 363.3,433.3 366.7,438.3 371.7,442.5 375.0,438.3 378.3,445.0 381.7,453.3 385.8,459.2 390.0,460.0 391.7,463.3 395.8,470.0 398.3,472.5" />
<polyline points="390.8,460.0 390.0,451.7 392.5,446.7 398.3,440.0 405.0,438.3 410.0,440.0 413.3,438.3 418.0,440.0" />
<polyline points="350.8,428.3 360.0,428.3" />
<polyline points="400.8,415.0 403.3,428.3 401.7,436.7 405.0,438.3" />
<polyline points="400.8,420.0 418.0,420.0" />
<polyline points="693.0,421.2 689.8,428.8 688.5,435.0 686.0,441.2 679.8,448.8 676.0,450.0 673.5,456.2 672.2,462.5 668.5,472.5 664.8,481.2 663.5,486.2 664.8,490.0 666.0,497.5 667.2,505.0 666.5,512.5 663.5,520.0 662.2,523.8 666.0,528.8 666.0,535.0 669.8,540.0 672.2,546.2 674.8,552.5 677.2,556.2" />
<polyline points="676.0,450.0 692.2,450.0" />
<polyline points="692.2,459.5 682.2,459.5 681.0,475.0 677.2,476.2 677.2,486.2 663.5,486.2" />
<polyline points="666.5,512.5 672.2,512.5 676.0,516.2 678.5,522.5 681.0,527.5 682.2,535.0 686.0,537.5 692.2,536.2" />
<polyline points="682.2,518.8 686.0,517.5 692.2,518.8" />
<polyline points="681.0,527.5 682.2,518.8" />
<polyline points="666.0,528.8 671.0,530.0 676.0,529.5 682.2,535.0" />
<polyline points="669.8,540.0 674.8,538.8 676.0,535.0" />
<polyline points="677.2,556.2 679.8,551.2 683.5,550.5 686.0,556.2" />
<polyline points="668.5,530.0 674.8,530.0 674.8,531.2 668.5,531.2 668.5,530.0" />
<polyline points="664.8,446.2 667.2,448.0" />
<polyline points="672.2,445.0 674.8,442.5 676.0,443.0 673.5,447.0" />
<polyline points="687.2,301.2 691.0,300.5 691.5,306.2 689.8,312.5 687.2,313.8 686.0,311.2 689.0,307.5 688.0,303.8 687.2,301.2" />
<polyline points="689.8,362.5 692.2,361.2 692.2,367.5" />
<polyline points="690.5,381.2 692.2,380.0 691.0,390.0 692.2,397.5" />
<polyline points="623.5,388.8 627.2,390.0" />
<polyline points="633.5,393.0 637.2,393.0" />
<polyline points="511.5,512.5 513.5,513.8 512.8,516.2 511.5,515.0 511.5,512.5" />
<polyline points="513.5,521.2 514.8,523.8" />
<polyline points="509.5,546.2 512.0,545.8 512.8,550.0 510.2,550.0 509.5,546.2" />
<polyline points="176.0,482.0 179.0,481.0" />
<polyline points="181.0,484.0 184.0,485.0" />
<polyline points="186.0,486.0 190.0,487.0" />
<polyline points="190.0,490.0 195.0,495.0 191.0,499.0 190.0,490.0" />
<polyline points="114.5,313.0 116.2,315.0 117.5,314.0" />
<polyline points="120.0,314.5 121.5,313.5" />
<polyline points="125.5,312.0 128.8,311.0" />
<polyline points="145.0,308.8 148.0,304.5 152.0,303.0 154.5,303.8 151.2,305.0 147.5,307.5 145.0,308.8" />
<polyline points="216.0,208.8 235.0,210.0 241.0,213.8 252.0,216.0 252.0,217.0 259.5,215.0 267.0,213.8 277.0,210.0 282.0,211.2 285.8,208.8 289.5,210.0 290.0,211.8" />
</g>
<g stroke="#000" stroke-width="1" fill="none" shape-rendering="crispEdges">
<rect x="90.5" y="104.5" width="602.0" height="452.0"/>
<path d="M108.5 104.5V95.0 M108.5 556.5V566.5"/>
<path d="M176.5 104.5V95.0 M176.5 556.5V566.5"/>
<path d="M244.5 104.5V95.0 M244.5 556.5V566.5"/>
<path d="M313.5 104.5V95.0 M313.5 556.5V566.5"/>
<path d="M381.5 104.5V95.0 M381.5 556.5V566.5"/>
<path d="M449.5 104.5V95.0 M449.5 556.5V566.5"/>
<path d="M517.5 104.5V95.0 M517.5 556.5V566.5"/>
<path d="M585.5 104.5V95.0 M585.5 556.5V566.5"/>
<path d="M654.5 104.5V95.0 M654.5 556.5V566.5"/>
<path d="M90.5 155.5H80.0 M692.5 155.5H703.0"/>
<path d="M90.5 211.5H80.0 M692.5 211.5H703.0"/>
<path d="M90.5 268.5H80.0 M692.5 268.5H703.0"/>
<path d="M90.5 324.5H80.0 M692.5 324.5H703.0"/>
<path d="M90.5 381.5H80.0 M692.5 381.5H703.0"/>
<path d="M90.5 437.5H80.0 M692.5 437.5H703.0"/>
<path d="M90.5 494.5H80.0 M692.5 494.5H703.0"/>
<path d="M90.5 550.5H80.0 M692.5 550.5H703.0"/>
</g>
<g shape-rendering="crispEdges">
<rect x="711.5" y="104.50" width="20.0" height="29.75" fill="#990000"/>
<rect x="711.5" y="133.50" width="20.0" height="29.75" fill="#DD0000"/>
<rect x="711.5" y="161.50" width="20.0" height="29.75" fill="#FF2600"/>
<rect x="711.5" y="189.50" width="20.0" height="29.75" fill="#FF6600"/>
<rect x="711.5" y="217.50" width="20.0" height="29.75" fill="#FFB000"/>
<rect x="711.5" y="245.50" width="20.0" height="29.75" fill="#FFF800"/>
<rect x="711.5" y="273.50" width="20.0" height="29.75" fill="#D2E913"/>
<rect x="711.5" y="302.50" width="20.0" height="29.75" fill="#9AD522"/>
<rect x="711.5" y="330.50" width="20.0" height="29.75" fill="#68C230"/>
<rect x="711.5" y="358.50" width="20.0" height="29.75" fill="#35AB40"/>
<rect x="711.5" y="386.50" width="20.0" height="29.75" fill="#00994D"/>
<rect x="711.5" y="414.50" width="20.0" height="29.75" fill="#188080"/>
<rect x="711.5" y="442.50" width="20.0" height="29.75" fill="#2C5FB2"/>
<rect x="711.5" y="470.50" width="20.0" height="29.75" fill="#4040E0"/>
<rect x="711.5" y="499.50" width="20.0" height="29.75" fill="#7722FF"/>
<rect x="711.5" y="527.50" width="20.0" height="29.00" fill="#CC00FF"/>
<g stroke="#000" stroke-width="1" fill="none"><rect x="711.5" y="104.5" width="20.0" height="452.0"/>
<path d="M711.5 133.5H731.5"/>
<path d="M711.5 161.5H731.5"/>
<path d="M711.5 189.5H731.5"/>
<path d="M711.5 217.5H731.5"/>
<path d="M711.5 245.5H731.5"/>
<path d="M711.5 273.5H731.5"/>
<path d="M711.5 302.5H731.5"/>
<path d="M711.5 330.5H731.5"/>
<path d="M711.5 358.5H731.5"/>
<path d="M711.5 386.5H731.5"/>
<path d="M711.5 414.5H731.5"/>
<path d="M711.5 442.5H731.5"/>
<path d="M711.5 470.5H731.5"/>
<path d="M711.5 499.5H731.5"/>
<path d="M711.5 527.5H731.5"/>
</g></g>
<text x="744.0" y="109.0" font-size="12.5" textLength="15.5" lengthAdjust="spacingAndGlyphs">40</text>
<text x="744.0" y="137.2" font-size="12.5" textLength="15.5" lengthAdjust="spacingAndGlyphs">35</text>
<text x="744.0" y="165.5" font-size="12.5" textLength="15.5" lengthAdjust="spacingAndGlyphs">30</text>
<text x="744.0" y="193.8" font-size="12.5" textLength="15.5" lengthAdjust="spacingAndGlyphs">25</text>
<text x="744.0" y="222.0" font-size="12.5" textLength="15.5" lengthAdjust="spacingAndGlyphs">20</text>
<text x="745.0" y="250.2" font-size="12.5" textLength="14.5" lengthAdjust="spacingAndGlyphs">15</text>
<text x="745.0" y="278.5" font-size="12.5" textLength="14.5" lengthAdjust="spacingAndGlyphs">10</text>
<text x="750.3" y="306.8" font-size="12.5" textLength="7.7" lengthAdjust="spacingAndGlyphs">5</text>
<text x="750.3" y="335.0" font-size="12.5" textLength="7.7" lengthAdjust="spacingAndGlyphs">0</text>
<text x="744.3" y="363.2" font-size="12.5" textLength="17.5" lengthAdjust="spacingAndGlyphs">−5</text>
<text x="737.5" y="391.5" font-size="12.5" textLength="26.0" lengthAdjust="spacingAndGlyphs">−10</text>
<text x="737.5" y="419.8" font-size="12.5" textLength="26.0" lengthAdjust="spacingAndGlyphs">−15</text>
<text x="737.5" y="448.0" font-size="12.5" textLength="26.0" lengthAdjust="spacingAndGlyphs">−20</text>
<text x="737.5" y="476.2" font-size="12.5" textLength="26.0" lengthAdjust="spacingAndGlyphs">−25</text>
<text x="737.5" y="504.5" font-size="12.5" textLength="26.0" lengthAdjust="spacingAndGlyphs">−30</text>
<text x="737.5" y="532.8" font-size="12.5" textLength="26.0" lengthAdjust="spacingAndGlyphs">−35</text>
<text x="737.5" y="561.0" font-size="12.5" textLength="26.0" lengthAdjust="spacingAndGlyphs">−40</text>
<text x="90.8" y="44.6" font-size="12.5" textLength="7.5" lengthAdjust="spacingAndGlyphs" >Z</text>
<text x="106.0" y="44.6" font-size="12.5" textLength="24.0" lengthAdjust="spacingAndGlyphs" >(m)</text>
<text x="138.0" y="44.6" font-size="12.5" textLength="3.5" lengthAdjust="spacingAndGlyphs" >:</text>
<text x="150.0" y="44.6" font-size="12.5" textLength="7.3" lengthAdjust="spacingAndGlyphs" >2</text>
<text x="90.2" y="59.6" font-size="12.5" textLength="28.7" lengthAdjust="spacingAndGlyphs" >TIME</text>
<text x="127.0" y="59.6" font-size="12.5" textLength="3.5" lengthAdjust="spacingAndGlyphs" >:</text>
<text x="137.8" y="59.6" font-size="12.5" textLength="96.3" lengthAdjust="spacingAndGlyphs" >31−JUL−1979</text>
<text x="244.0" y="59.6" font-size="12.5" textLength="33.5" lengthAdjust="spacingAndGlyphs" >18:00</text>
<text x="288.0" y="59.6" font-size="12.5" textLength="12.5" lengthAdjust="spacingAndGlyphs" >to</text>
<text x="308.0" y="59.6" font-size="12.5" textLength="99.0" lengthAdjust="spacingAndGlyphs" >31−AUG−1979</text>
<text x="417.0" y="59.6" font-size="12.5" textLength="35.5" lengthAdjust="spacingAndGlyphs" >18:00</text>
<text x="500.0" y="59.6" font-size="12.5" textLength="29.0" lengthAdjust="spacingAndGlyphs" >DATA</text>
<text x="538.0" y="59.6" font-size="12.5" textLength="26.0" lengthAdjust="spacingAndGlyphs" >SET:</text>
<text x="573.0" y="59.6" font-size="12.5" textLength="120.5" lengthAdjust="spacingAndGlyphs" >nrcp15_tmin_06z</text>
<text x="291.2" y="79.6" font-size="12.5" textLength="26.8" lengthAdjust="spacingAndGlyphs" >data</text>
<text x="327.0" y="79.6" font-size="12.5" textLength="30.5" lengthAdjust="spacingAndGlyphs" >from</text>
<text x="366.2" y="79.6" font-size="12.5" textLength="45.0" lengthAdjust="spacingAndGlyphs" >nrcp15</text>
<text x="419.5" y="79.6" font-size="12.5" textLength="73.5" lengthAdjust="spacingAndGlyphs" >experiment</text>
<text x="662.8" y="14.7" font-size="7" textLength="59.2" lengthAdjust="spacingAndGlyphs" font-weight="bold">FERRET Ver. 5.70</text>
<text x="662.8" y="22.3" font-size="7" textLength="59.2" lengthAdjust="spacingAndGlyphs" font-weight="bold">NOAA/PMEL TMAP</text>
<text x="654.0" y="30.0" font-size="7" textLength="76.8" lengthAdjust="spacingAndGlyphs" font-weight="bold">Jan 21 2005 21:16:56</text>
<text x="96.5" y="581.0" font-size="12" textLength="25.0" lengthAdjust="spacingAndGlyphs" >180°</text>
<text x="229.0" y="581.0" font-size="12" textLength="33.8" lengthAdjust="spacingAndGlyphs" >140°W</text>
<text x="365.0" y="581.0" font-size="12" textLength="33.8" lengthAdjust="spacingAndGlyphs" >100°W</text>
<text x="504.0" y="581.0" font-size="12" textLength="27.5" lengthAdjust="spacingAndGlyphs" >60°W</text>
<text x="640.0" y="581.0" font-size="12" textLength="27.5" lengthAdjust="spacingAndGlyphs" >20°W</text>
<text x="48.6" y="216.0" font-size="12" textLength="25.7" lengthAdjust="spacingAndGlyphs" >70°N</text>
<text x="48.6" y="329.0" font-size="12" textLength="25.7" lengthAdjust="spacingAndGlyphs" >50°N</text>
<text x="48.6" y="442.0" font-size="12" textLength="25.7" lengthAdjust="spacingAndGlyphs" >30°N</text>
<text x="48.6" y="555.0" font-size="12" textLength="25.7" lengthAdjust="spacingAndGlyphs" >10°N</text>
<text x="361.0" y="598.5" font-size="12.5" textLength="60.5" lengthAdjust="spacingAndGlyphs" >longitude</text>
<text transform="translate(39.5,354.6) rotate(-90)" font-size="12.5" textLength="48.2" lengthAdjust="spacingAndGlyphs">latitude</text>
<text x="211.9" y="637.0" font-size="25.5" textLength="54.1" lengthAdjust="spacingAndGlyphs" class="ser" >TMIN</text>
<text x="268.2" y="637.0" font-size="25.5" textLength="8.6" lengthAdjust="spacingAndGlyphs" class="ser" >[</text>
<text x="275.7" y="637.0" font-size="25.5" textLength="15.3" lengthAdjust="spacingAndGlyphs" class="ser" >L</text>
<text x="291.9" y="637.0" font-size="25.5" textLength="15.6" lengthAdjust="spacingAndGlyphs" class="ser" >=</text>
<text x="309.4" y="637.0" font-size="25.5" textLength="42.9" lengthAdjust="spacingAndGlyphs" class="ser" >213</text>
<text x="351.6" y="637.0" font-size="25.5" textLength="6.3" lengthAdjust="spacingAndGlyphs" class="ser" >:</text>
<text x="358.2" y="637.0" font-size="25.5" textLength="42.6" lengthAdjust="spacingAndGlyphs" class="ser" >243</text>
<text x="401.9" y="637.0" font-size="25.5" textLength="18.1" lengthAdjust="spacingAndGlyphs" class="ser" >@</text>
<text x="420.7" y="637.0" font-size="25.5" textLength="44.1" lengthAdjust="spacingAndGlyphs" class="ser" >AVE</text>
<text x="464.9" y="637.0" font-size="25.5" textLength="8.9" lengthAdjust="spacingAndGlyphs" class="ser" >]</text>
<text x="475.6" y="637.0" font-size="25.5" textLength="15.6" lengthAdjust="spacingAndGlyphs" class="ser" >−</text>
<text x="493.2" y="637.0" font-size="25.5" textLength="41.6" lengthAdjust="spacingAndGlyphs" class="ser" >273</text>
<text x="536.0" y="637.0" font-size="25.5" textLength="6.0" lengthAdjust="spacingAndGlyphs" class="ser" >.</text>
<text x="545.7" y="637.0" font-size="25.5" textLength="25.4" lengthAdjust="spacingAndGlyphs" class="ser" >15</text>
</svg></body></html>
